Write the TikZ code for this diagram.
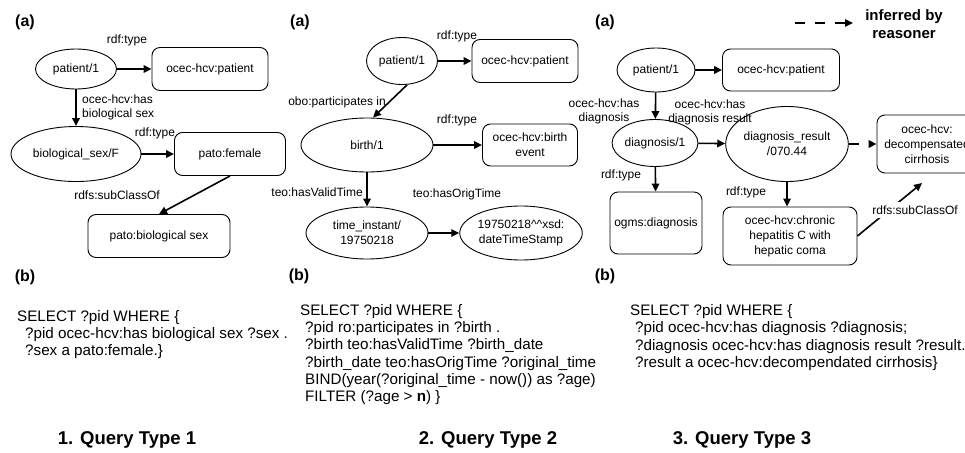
\documentclass[tikz,border=0pt]{standalone}
\usepackage{fontspec}
\setmainfont{Liberation Sans}
\usetikzlibrary{arrows.meta, shapes.geometric}

\begin{document}
\begin{tikzpicture}[x=1pt, y=-1pt,
      ent/.style={draw, ellipse, line width=0.9pt, inner sep=0pt, align=center,
                  font=\fontsize{12}{15}\selectfont},
      cls/.style={draw, rounded corners=8pt, line width=0.9pt, inner sep=0pt, align=center,
                  font=\fontsize{12}{15}\selectfont},
      elab/.style={inner sep=1pt, align=center, font=\fontsize{12}{14}\selectfont},
      rel/.style={line width=1.6pt, -{Triangle[length=8pt, width=7.5pt]}},
      infer/.style={rel, dash pattern=on 10pt off 10pt},
      qry/.style={anchor=west, inner sep=0pt, align=left, font=\fontsize{15.2}{17.2}\selectfont},
      ttl/.style={font=\fontsize{18.5}{20}\selectfont\bfseries},
      plab/.style={font=\fontsize{16}{18}\selectfont\bfseries}]
    \useasboundingbox (0,0) rectangle (965,452);

    % query type 1
    \node[plab] (a1) at (25,22) {(a)};
    \node[ent, minimum width=81pt, minimum height=40pt]  (pat1)  at (76,69)   {patient/1};
    \node[cls, minimum width=116pt, minimum height=43pt] (patc1) at (210,69)  {ocec-hcv:patient};
    \node[ent, minimum width=130pt, minimum height=55pt] (sex1)  at (76,154)  {biological\_sex/F};
    \node[cls, minimum width=111pt, minimum height=43pt] (fem1)  at (230,154) {pato:female};
    \node[cls, minimum width=142pt, minimum height=43pt] (bsex1) at (159,236) {pato:biological sex};
    \node[elab] (l11) at (127,40) {rdf:type};
    \node[elab, align=left, anchor=west] (l12) at (81,107) {ocec-hcv:has\\biological sex};
    \node[elab] (l13) at (155,133) {rdf:type};
    \node[elab] (l14) at (117,195) {rdfs:subClassOf};
    \draw[rel] (pat1) -- (patc1);
    \draw[rel] (pat1) -- (sex1);
    \draw[rel] (sex1) -- (fem1);
    \draw[rel] (fem1.south) -- (bsex1.north);
    \node[plab] (b1) at (25,277) {(b)};
    \node[qry] (q1) at (17,334.5) {SELECT ?pid WHERE \{\\
      \hspace*{8pt}?pid ocec-hcv:has biological sex ?sex .\\
      \hspace*{8pt}?sex a pato:female.\}};
    \node[ttl] (t1) at (127,440) {1. Query Type 1};

    % query type 2
    \node[plab] (a2) at (300,22) {(a)};
    \node[ent, minimum width=71pt, minimum height=47pt]  (pat2)   at (402,61)  {patient/1};
    \node[cls, minimum width=106pt, minimum height=43pt] (patc2)  at (525,61)  {ocec-hcv:patient};
    \node[ent, minimum width=132pt, minimum height=54pt] (birth2) at (367,145) {birth/1};
    \node[cls, minimum width=95pt, minimum height=42pt]  (bev2)   at (530,145) {ocec-hcv:birth\\event};
    \node[ent, minimum width=122pt, minimum height=52pt] (time2)  at (367,233) {time\_instant/\\19750218};
    \node[ent, minimum width=105pt, minimum height=54pt] (stamp2) at (521,233)
      {19750218\textasciicircum\textasciicircum xsd:\\dateTimeStamp};
    \node[elab] (l21) at (457,36)  {rdf:type};
    \node[elab] (l22) at (337,102) {obo:participates in};
    \node[elab] (l23) at (457,120) {rdf:type};
    \node[elab, anchor=east] (l24) at (364,192) {teo:hasValidTime};
    \node[elab] (l25) at (457,194) {teo:hasOrigTime};
    \draw[rel] (pat2) -- (patc2);
    \draw[rel] ([xshift=5pt]pat2.south) -- ([xshift=6pt]birth2.north);
    \draw[rel] (birth2) -- (bev2);
    \draw[rel] (birth2) -- (time2);
    \draw[rel] (time2) -- (stamp2);
    \node[plab] (b2) at (299,276) {(b)};
    \node[qry] (q2) at (300,354.5) {SELECT ?pid WHERE \{\\
      \hspace*{5pt}?pid ro:participates in ?birth .\\
      \hspace*{5pt}?birth teo:hasValidTime ?birth\_date\\
      \hspace*{5pt}?birth\_date teo:hasOrigTime ?original\_time\\
      \hspace*{5pt}BIND(year(?original\_time - now()) as ?age)\\
      \hspace*{5pt}FILTER (?age > \textbf{n}) \}};
    \node[ttl] (t2) at (488,440) {2. Query Type 2};

    % query type 3
    \node[plab] (a3) at (605,22) {(a)};
    \coordinate (infA) at (795,23);
    \coordinate (infB) at (853,23);
    \draw[infer] (infA) -- (infB);
    \node[elab, font=\fontsize{15}{18}\selectfont\bfseries] (inf) at (904,24) {inferred by\\reasoner};
    \node[ent, minimum width=78pt, minimum height=44pt]  (pat3)    at (656,70)  {patient/1};
    \node[cls, minimum width=117pt, minimum height=42pt] (patc3)   at (781,70)  {ocec-hcv:patient};
    \node[ent, minimum width=82pt, minimum height=47pt]  (diag3)   at (655,143) {diagnosis/1};
    \node[ent, minimum width=107pt, minimum height=75pt] (dres3)   at (787,144) {diagnosis\_result\\/070.44};
    \node[cls, minimum width=100pt, minimum height=58pt] (decomp3) at (927,144)
      {ocec-hcv:\\decompensated\\cirrhosis};
    \node[cls, minimum width=92pt, minimum height=62pt]  (ogms3)   at (656,223) {ogms:diagnosis};
    \node[cls, minimum width=134pt, minimum height=58pt] (chron3)  at (790,236)
      {ocec-hcv:chronic\\hepatitis C with\\hepatic coma};
    \node[elab] (l31) at (604,111) {ocec-hcv:has\\diagnosis};
    \node[elab] (l32) at (710,112) {ocec-hcv:has\\diagnosis result};
    \node[elab] (l33) at (621,175) {rdf:type};
    \node[elab] (l34) at (746,192) {rdf:type};
    \draw[rel] (pat3) -- (patc3);
    \draw[rel] (pat3) -- (diag3);
    \draw[rel] (diag3) -- (dres3);
    \draw[infer] (dres3) -- (decomp3);
    \draw[rel] (diag3) -- (ogms3);
    \draw[rel] (dres3) -- (dres3 |- chron3.north);
    \coordinate (subtip) at (922,183);
    \draw[rel] (chron3.east) -- (subtip);
    \node[elab, fill=white, inner sep=4pt] (l35) at (915,210) {rdfs:subClassOf};
    \node[plab] (b3) at (605,276) {(b)};
    \node[qry] (q3) at (630,337.5) {SELECT ?pid WHERE \{\\
      \hspace*{5pt}?pid ocec-hcv:has diagnosis ?diagnosis;\\
      \hspace*{5pt}?diagnosis ocec-hcv:has diagnosis result ?result.\\
      \hspace*{5pt}?result a ocec-hcv:decompendated cirrhosis\}};
    \node[ttl] (t3) at (742,440) {3. Query Type 3};
  \end{tikzpicture}
\end{document}
